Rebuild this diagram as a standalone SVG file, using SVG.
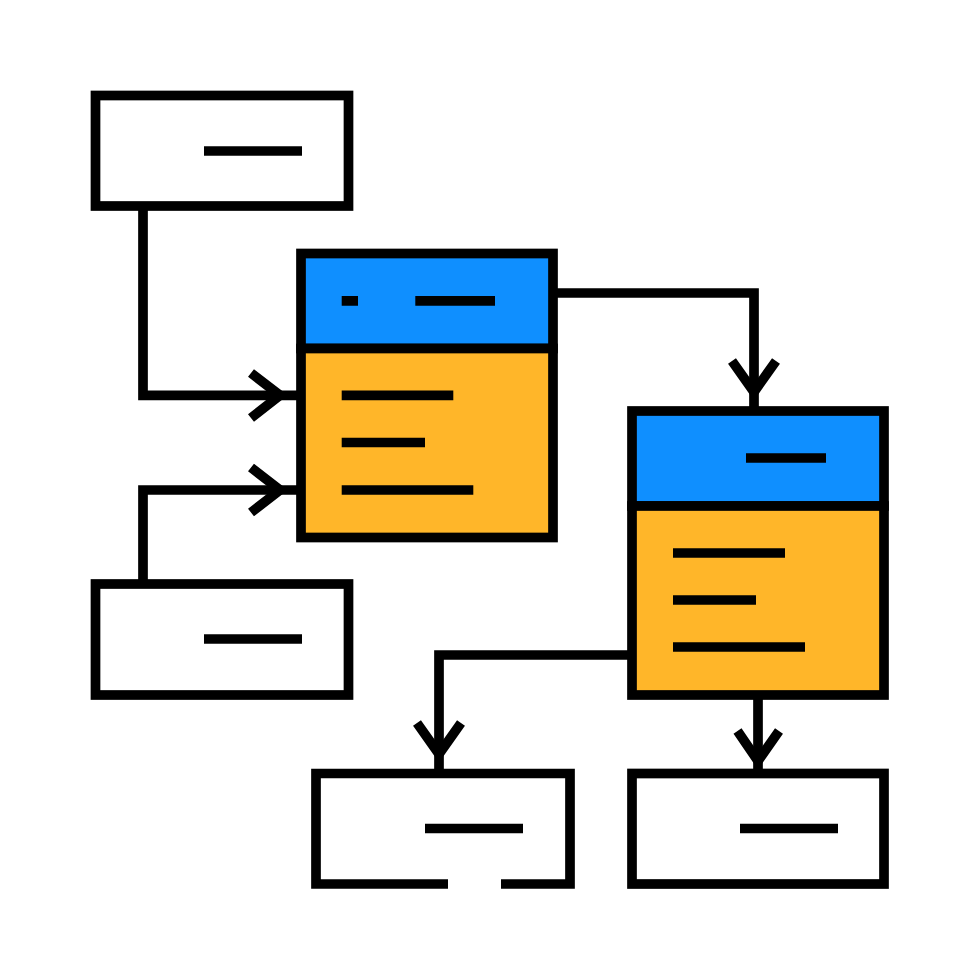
<svg xmlns="http://www.w3.org/2000/svg" width="980" height="980" viewBox="0 0 980 980">
<style>
.l{fill:none;stroke:#000;stroke-width:9.7}
.b{fill:#fff;stroke:#000;stroke-width:9.7}
.h{fill:#0f8fff;stroke:#000;stroke-width:9.7}
.o{fill:#ffb629;stroke:#000;stroke-width:9.7}
</style>
<rect width="980" height="980" fill="#fff"/>
<g id="connectors">
<path class="l" d="M143 206V395.3H297"/>
<path class="l" d="M251 373L280 395.3L251 418"/>
<path class="l" d="M143 584V490H297"/>
<path class="l" d="M251 467.5L280 490L251 512.5"/>
<path class="l" d="M553 293H754V410"/>
<path class="l" d="M732 361L754 392L776 361"/>
<path class="l" d="M632 655H439V772"/>
<path class="l" d="M417 723L439 754L461 723"/>
<path class="l" d="M758 695V772"/>
<path class="l" d="M737.5 731L758 761L779 731"/>
</g>
<g id="node-top-left">
<rect class="b" x="95.5" y="95.5" width="253" height="110.5"/>
<path class="l" d="M204 151H302"/>
</g>
<g id="node-bottom-left">
<rect class="b" x="95.5" y="584" width="253" height="111"/>
<path class="l" d="M204 639H302"/>
</g>
<g id="node-table-1">
<rect class="h" x="301" y="253.5" width="252" height="95"/>
<rect class="o" x="301" y="348.5" width="252" height="189"/>
<path class="l" d="M341.7 300.8H358M415.3 300.8H495M341.7 395.3H453.3M341.7 442.5H425M341.7 490H473.3"/>
</g>
<g id="node-table-2">
<rect class="h" x="632" y="411" width="252" height="95"/>
<rect class="o" x="632" y="506" width="252" height="189"/>
<path class="l" d="M746 458H826M673 553H785M673 600H756M673 647H805"/>
</g>
<g id="node-bottom-middle">
<path class="l" d="M448 884H316V773.5H570V884H501"/>
<path class="l" d="M425 828.5H523"/>
</g>
<g id="node-bottom-right">
<rect class="b" x="632" y="773.5" width="252" height="110.5"/>
<path class="l" d="M740 828.5H838"/>
</g>
</svg>
